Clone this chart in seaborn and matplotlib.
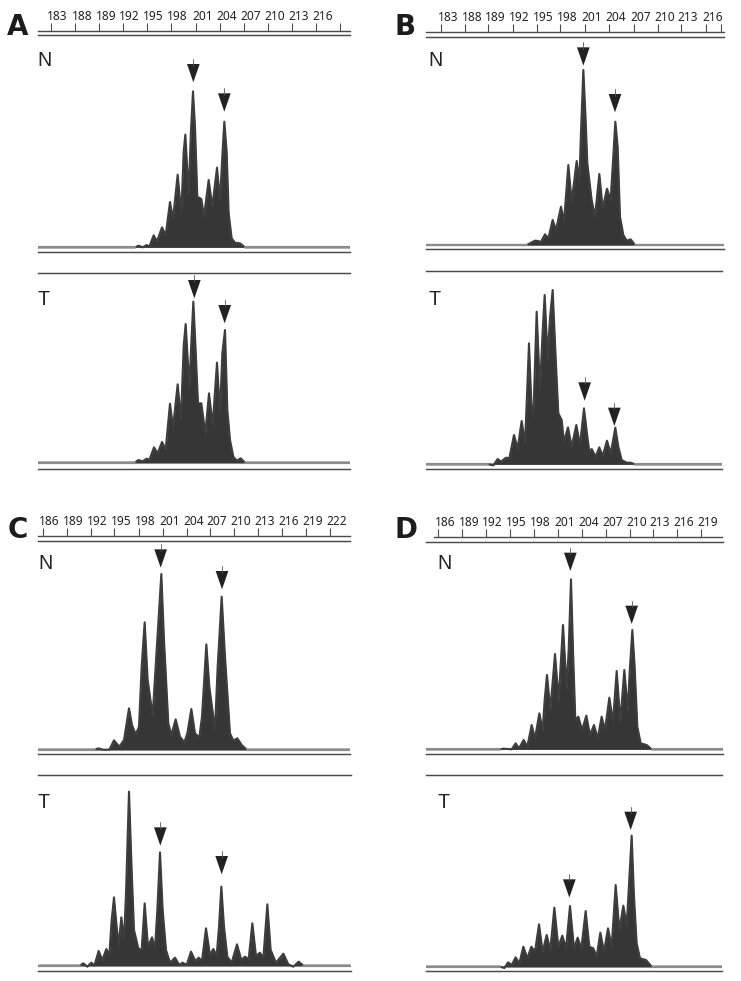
import matplotlib
matplotlib.use("Agg")
import matplotlib.pyplot as plt
from matplotlib.transforms import ScaledTranslation
import seaborn as sns

# x values are scan positions, y values are signal heights above the baseline
LABELS_AB = ["183", "188", "189", "192", "195", "198", "201", "204", "207", "210", "213", "216", ""]
LABELS_C = ["186", "189", "192", "195", "198", "201", "204", "207", "210", "213", "216", "219", "222"]
LABELS_D = ["186", "189", "192", "195", "198", "201", "204", "207", "210", "213", "216", "219"]

TICKS_A = [152, 226, 298, 369, 441, 513, 587, 660, 731, 803, 875, 948, 1019]
TICKS_B = [213, 286, 355, 429, 500, 571, 646, 717, 791, 863, 934, 1007, 1054]
TICKS_C = [128, 200, 272, 343, 416, 488, 560, 631, 702, 773, 845, 917, 990]
TICKS_D = [205, 277, 348, 419, 491, 564, 636, 707, 779, 850, 921, 993]

A_N_X = [113, 405, 416, 428, 440, 448, 461, 471, 486, 497, 510, 519, 533, 544, 551, 556, 566, 573, 579, 585, 592, 604, 612, 626, 637, 651, 660, 668, 673, 680, 686, 695, 705, 720, 735, 1050]
A_N_Y = [0, 0, 5, 0, 7, 2, 36, 18, 60, 36, 136, 85, 218, 100, 287, 338, 160, 352, 468, 362, 152, 145, 92, 202, 122, 239, 142, 292, 377, 287, 102, 27, 14, 12, 0, 0]
A_T_X = [113, 405, 415, 428, 440, 448, 462, 473, 486, 497, 510, 519, 533, 543, 551, 557, 568, 574, 580, 586, 594, 604, 616, 627, 638, 651, 660, 667, 675, 682, 690, 700, 710, 722, 735, 1050]
A_T_Y = [0, 0, 8, 4, 12, 8, 46, 28, 62, 40, 177, 105, 235, 130, 350, 416, 225, 360, 483, 358, 178, 178, 88, 208, 113, 300, 148, 328, 398, 158, 68, 18, 6, 13, 0, 0]
B_N_X = [167, 470, 495, 505, 512, 525, 535, 548, 558, 573, 582, 595, 605, 620, 628, 633, 640, 647, 652, 665, 675, 688, 698, 711, 722, 728, 736, 743, 750, 760, 770, 782, 795, 1062]
B_N_Y = [0, 0, 13, 12, 8, 32, 20, 75, 45, 115, 70, 240, 130, 252, 190, 340, 525, 375, 245, 135, 85, 213, 110, 169, 135, 235, 370, 295, 85, 30, 13, 17, 0, 0]
B_T_X = [167, 355, 370, 383, 393, 408, 418, 432, 443, 455, 465, 470, 477, 484, 490, 495, 500, 510, 518, 524, 533, 540, 548, 556, 565, 575, 582, 594, 605, 619, 630, 642, 652, 658, 665, 677, 688, 698, 711, 722, 736, 745, 755, 770, 782, 795, 1055]
B_T_Y = [0, 0, -3, 16, 8, 20, 18, 88, 48, 130, 63, 183, 363, 183, 143, 300, 458, 223, 400, 508, 318, 440, 523, 343, 153, 133, 68, 111, 53, 118, 58, 168, 83, 38, 46, 23, 51, 25, 71, 33, 110, 53, 13, 5, 5, 0, 0]
C_N_X = [115, 285, 295, 310, 328, 342, 358, 372, 387, 396, 407, 417, 425, 434, 443, 458, 470, 484, 492, 505, 514, 527, 540, 553, 562, 574, 585, 598, 606, 619, 628, 645, 653, 665, 675, 690, 700, 712, 725, 740, 1050]
C_N_Y = [0, 0, 4, 0, 0, 28, 9, 29, 124, 74, 46, 69, 249, 382, 209, 102, 299, 527, 329, 79, 44, 91, 39, 22, 49, 122, 49, 37, 99, 316, 189, 61, 249, 459, 279, 49, 27, 34, 14, 0, 0]
C_T_X = [118, 240, 250, 262, 274, 283, 296, 307, 319, 328, 335, 342, 350, 356, 364, 372, 378, 387, 395, 402, 415, 425, 434, 444, 456, 465, 472, 480, 488, 498, 510, 525, 538, 548, 560, 573, 586, 596, 606, 618, 630, 640, 650, 657, 664, 672, 682, 695, 711, 724, 735, 746, 757, 768, 780, 790, 802, 812, 828, 850, 865, 880, 896, 910, 1050]
C_T_Y = [0, 0, 7, -3, 9, 0, 44, 17, 50, 32, 137, 205, 117, 62, 145, 77, 217, 522, 287, 107, 52, 47, 187, 57, 85, 52, 167, 340, 167, 47, 9, 24, 2, 9, 2, 42, 14, 24, 14, 112, 32, 50, 30, 117, 237, 117, 27, 9, 64, 17, 27, 19, 127, 29, 39, 22, 184, 47, 9, 36, 4, -3, 12, 0, 0]
D_N_X = [167, 390, 400, 425, 437, 447, 461, 472, 485, 495, 508, 518, 524, 531, 541, 555, 566, 579, 590, 596, 603, 609, 616, 625, 636, 649, 660, 672, 683, 695, 705, 718, 729, 740, 751, 763, 773, 780, 787, 794, 802, 812, 830, 845, 1058]
D_N_Y = [0, 0, 2, 0, 18, 3, 28, 8, 73, 33, 108, 58, 148, 223, 118, 286, 148, 373, 183, 298, 510, 298, 88, 98, 58, 101, 43, 73, 33, 98, 58, 155, 83, 235, 83, 238, 118, 248, 358, 248, 68, 18, 13, 0, 0]
D_T_X = [167, 390, 403, 414, 425, 437, 448, 460, 472, 484, 495, 507, 518, 530, 541, 553, 565, 577, 588, 600, 612, 623, 634, 647, 658, 670, 680, 691, 702, 714, 725, 737, 748, 760, 770, 775, 785, 792, 800, 810, 828, 845, 1055]
D_T_Y = [0, 0, -4, 13, 5, 28, 10, 60, 25, 60, 45, 127, 45, 95, 50, 177, 60, 93, 55, 182, 55, 87, 55, 167, 60, 55, 30, 102, 45, 115, 60, 245, 110, 183, 125, 210, 393, 210, 70, 25, 20, 0, 0]

A_N_ARROW_X, A_N_ARROW_TIP = [580, 673], [495, 407]
A_T_ARROW_X, A_T_ARROW_TIP = [583, 674], [493, 418]
B_N_ARROW_X, B_N_ARROW_TIP = [640, 735], [538, 398]
B_T_ARROW_X, B_T_ARROW_TIP = [644, 733], [191, 115]
C_N_ARROW_X, C_N_ARROW_TIP = [482, 666], [546, 481]
C_T_ARROW_X, C_T_ARROW_TIP = [481, 665], [360, 274]
D_N_ARROW_X, D_N_ARROW_TIP = [601, 785], [535, 376]
D_T_ARROW_X, D_T_ARROW_TIP = [598, 782], [207, 410]

sns.set_theme(style="white")
plt.rcParams["font.family"] = ["Noto Sans", "DejaVu Sans"]

W, H = 741, 981
RULE = "#4a4a4a"
fig = plt.figure(figsize=(W / 100, H / 100), dpi=100)
fig.patch.set_facecolor("white")
LABEL_SHIFT = ScaledTranslation(6.7 / 100, 0, fig.dpi_scale_trans)


def make_axes(px0, px1, py_top, py_bottom):
    return fig.add_axes([px0 / W, 1 - py_bottom / H, (px1 - px0) / W, (py_bottom - py_top) / H])


def ruler(ox, oy, x0, x1, y_line, ticks, labels):
    ax = make_axes(ox + x0 / 3, ox + x1 / 3, oy + y_line / 3, oy + y_line / 3 + 3)
    ax.set_xlim(x0, x1)
    ax.set_ylim(0, 1)
    for s in ("left", "right", "bottom"):
        ax.spines[s].set_visible(False)
    ax.spines["top"].set_linewidth(1.0)
    ax.spines["top"].set_color(RULE)
    ax.xaxis.tick_top()
    ax.set_yticks([])
    ax.set_xticks(ticks)
    ax.set_xticklabels(labels, fontsize=8.6, color="#222222")
    ax.tick_params(axis="x", length=5.8, width=0.8, color=RULE, pad=0.0, top=True, bottom=False)
    for lab in ax.get_xticklabels():
        lab.set_transform(lab.get_transform() + LABEL_SHIFT)
    ax.patch.set_alpha(0)


def trace(ox, oy, x0, x1, y_top, y_base, y_bottom, xs, ys, arrow_x, arrow_tip, name, name_x, name_y):
    ax = make_axes(ox + x0 / 3, ox + x1 / 3, oy + y_top / 3, oy + y_bottom / 3)
    ax.set_xlim(x0, x1)
    ax.set_ylim(y_base - y_bottom, y_base - y_top)
    for s in ("left", "right"):
        ax.spines[s].set_visible(False)
    for s in ("top", "bottom"):
        ax.spines[s].set_linewidth(1.05)
        ax.spines[s].set_color(RULE)
    ax.set_xticks([])
    ax.set_yticks([])
    ax.axhline(0, color="#9a9a9a", lw=1.5, zorder=1)
    ax.fill_between(xs, 0, ys, color="#363636", lw=0, zorder=2)
    sns.lineplot(x=xs, y=ys, ax=ax, estimator=None, sort=False, color="#3d3d3d", lw=1.5, zorder=3)
    ax.axhline(0, xmin=0, xmax=(xs[1] - x0) / (x1 - x0), color="#8c8c8c", lw=1.5, zorder=4)
    ax.axhline(0, xmin=(xs[-2] - x0) / (x1 - x0), xmax=1, color="#8c8c8c", lw=1.5, zorder=4)
    ax.set_xlabel("")
    ax.set_ylabel("")
    for ax_x, tip in zip(arrow_x, arrow_tip):
        ax.fill([ax_x - 19, ax_x + 19, ax_x], [tip + 55, tip + 55, tip], color="#222222", lw=0, zorder=5)
        ax.plot([ax_x, ax_x], [tip + 50, tip + 70], color="#555555", lw=0.6, zorder=5)
    ax.text(name_x, y_base - name_y, name, fontsize=14.2, color="#222222", ha="center", va="center",
            family=["Liberation Sans", "DejaVu Sans"])


def letter(px, py, s):
    fig.text(px / W, 1 - py / H, s, fontsize=20, fontweight="bold", family=["DejaVu Sans"],
             ha="center", va="center", color="#1c1c1c")


# Panel A
letter(18, 27, "A")
ruler(0, 0, 113, 1050, 92, TICKS_A, LABELS_AB)
trace(0, 0, 113, 1050, 106, 742, 757, A_N_X, A_N_Y, A_N_ARROW_X, A_N_ARROW_TIP, "N", 135, 181)
trace(0, 270, 113, 1050, 9, 578, 597, A_T_X, A_T_Y, A_T_ARROW_X, A_T_ARROW_TIP, "T", 132, 88)

# Panel B
letter(405, 27, "B")
ruler(370, 0, 167, 1062, 96, TICKS_B, LABELS_AB)
trace(370, 0, 167, 1062, 111, 735, 747, B_N_X, B_N_Y, B_N_ARROW_X, B_N_ARROW_TIP, "N", 197, 181)
trace(370, 270, 167, 1055, 2, 583, 597, B_T_X, B_T_Y, B_T_ARROW_X, B_T_ARROW_TIP, "T", 194, 88)

# Panel C
letter(18, 530, "C")
ruler(0, 500, 115, 1050, 107, TICKS_C, LABELS_C)
trace(0, 500, 115, 1050, 122, 749, 762, C_N_X, C_N_Y, C_N_ARROW_X, C_N_ARROW_TIP, "N", 135, 190)
trace(0, 770, 115, 1052, 15, 587, 602, C_T_X, C_T_Y, C_T_ARROW_X, C_T_ARROW_TIP, "T", 132, 97)

# Panel D
letter(406, 530, "D")
ruler(370, 500, 192, 1055, 110, TICKS_D, LABELS_D)
trace(370, 500, 167, 1058, 125, 748, 763, D_N_X, D_N_Y, D_N_ARROW_X, D_N_ARROW_TIP, "N", 224, 190)
trace(370, 770, 167, 1057, 16, 590, 604, D_T_X, D_T_Y, D_T_ARROW_X, D_T_ARROW_TIP, "T", 220, 97)

fig.savefig("out.png", dpi=100, facecolor="white")
